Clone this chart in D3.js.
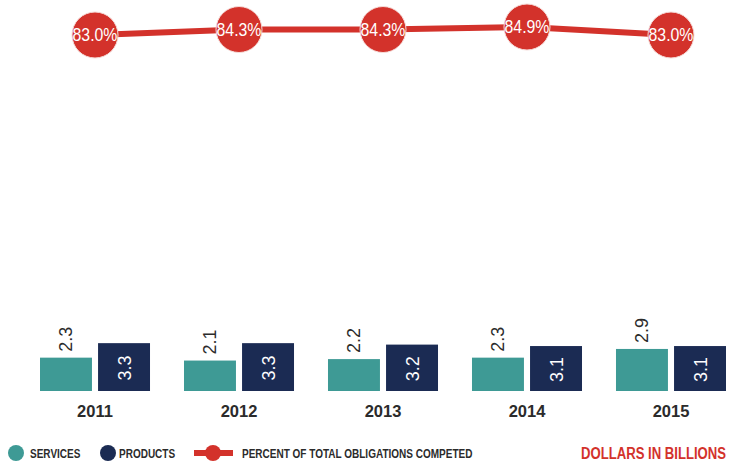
<!DOCTYPE html>
<html><head><meta charset="utf-8">
<script src="https://cdn.jsdelivr.net/npm/d3@7"></script>
<style>
body{margin:0;background:#fff}
svg{display:block}
text{font-family:"Liberation Sans",Arial,sans-serif}
</style></head>
<body><svg id="c" width="739" height="463"></svg>
<script>
const years = ["2011","2012","2013","2014","2015"];
const services = [2.3, 2.1, 2.2, 2.3, 2.9];
const products = [3.3, 3.3, 3.2, 3.1, 3.1];
const percent = [83.0, 84.3, 84.3, 84.9, 83.0];
const legendLabels = ["SERVICES","PRODUCTS","PERCENT OF TOTAL OBLIGATIONS COMPETED"];
const unitsLabel = "DOLLARS IN BILLIONS";

const teal="#3e9a95", navy="#1b2b53", red="#d3322b", dark="#2b2b2b";
const svg=d3.select("#c");

const x0=d3.scaleBand().domain(years).range([40,726]).paddingInner(0.236).paddingOuter(0);
const x1=d3.scaleBand().domain(["s","p"]).range([0,x0.bandwidth()]).paddingInner(0.105);
const y=d3.scaleLinear().domain([0,6]).range([391,304]);
const yp=d3.scaleLinear().domain([83.0,84.9]).range([35,27]);

const g=svg.append("g");
years.forEach((yr,i)=>{
  const gx=x0(yr);
  const sx=gx+x1("s"), px=gx+x1("p"), bw=x1.bandwidth();
  g.append("rect").attr("x",sx).attr("y",y(services[i])).attr("width",bw).attr("height",y(0)-y(services[i])).attr("fill",teal);
  g.append("rect").attr("x",px).attr("y",y(products[i])).attr("width",bw).attr("height",y(0)-y(products[i])).attr("fill",navy);
  g.append("text").attr("transform",`translate(${sx+bw/2},${y(services[i])-6}) rotate(-90)`)
    .attr("dy","0.36em").attr("text-anchor","start").attr("fill",dark).attr("font-size",18).text(services[i].toFixed(1));
  g.append("text").attr("transform",`translate(${px+bw/2},${(y(products[i])+y(0))/2+1}) rotate(-90)`)
    .attr("dy","0.36em").attr("text-anchor","middle").attr("fill","#fff").attr("font-size",18).text(products[i].toFixed(1));
});

// x axis labels
const ax=svg.append("g").attr("transform","translate(0,391)")
  .call(d3.axisBottom(x0).tickSize(0).tickPadding(14));
ax.select(".domain").remove();
ax.selectAll("text").attr("font-size",16.5).attr("font-weight","bold").attr("fill",dark)
  .style("font-family",'"Liberation Sans",Arial,sans-serif');

// line
const cx=d=>x0(d)+x0.bandwidth()/2;
const line=d3.line().x((d,i)=>cx(years[i])).y(d=>yp(d));
svg.append("path").datum(percent).attr("d",line).attr("fill","none").attr("stroke",red).attr("stroke-width",6);
const pts=svg.append("g").selectAll("g").data(percent).join("g")
  .attr("transform",(d,i)=>`translate(${cx(years[i])},${yp(d)})`);
pts.append("circle").attr("r",23).attr("fill",red).attr("stroke","#f6dcd9").attr("stroke-width",1);
pts.append("text").attr("transform","scale(0.88,1)").attr("dy","0.36em").attr("text-anchor","middle").attr("fill","#fff").attr("font-size",18)
  .text(d=>d.toFixed(1)+"%");

// legend
const lg=svg.append("g").attr("transform","translate(0,453)");
function ltext(x,t,size,sc,fill,anchor){
  lg.append("text").attr("transform",`translate(${x},0) scale(${sc},1)`).attr("dy","0.36em")
    .attr("text-anchor",anchor||"start").attr("font-size",size).attr("font-weight","bold").attr("fill",fill).text(t);
}
lg.append("circle").attr("cx",16).attr("cy",0).attr("r",8).attr("fill",teal);
ltext(30,legendLabels[0],13,0.77,dark);
lg.append("circle").attr("cx",108).attr("cy",0).attr("r",8).attr("fill",navy);
ltext(119,legendLabels[1],13,0.77,dark);
lg.append("line").attr("x1",194).attr("x2",233).attr("stroke",red).attr("stroke-width",6);
lg.append("circle").attr("cx",213).attr("cy",0).attr("r",8).attr("fill",red);
ltext(242,legendLabels[2],13,0.77,dark);
ltext(726,unitsLabel,16,0.82,red,"end");
</script></body></html>
